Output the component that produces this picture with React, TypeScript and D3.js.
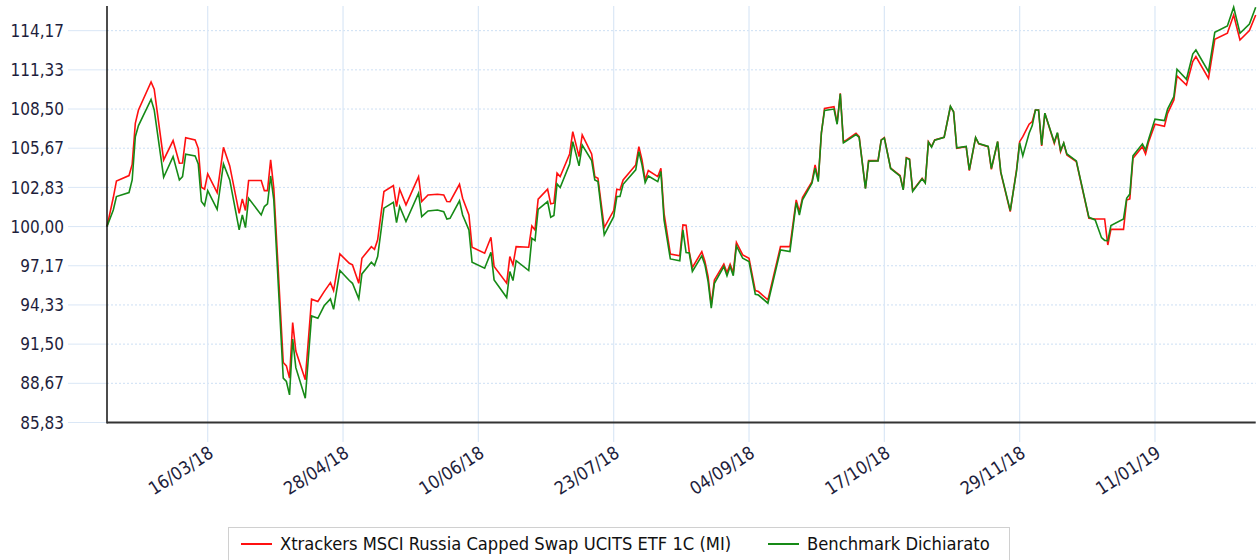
import { useMemo } from 'react';
import * as d3 from 'd3';

// trading dates where the lines change direction
const dates = [
	'2018-02-12','2018-02-14','2018-02-15','2018-02-19','2018-02-20','2018-02-21','2018-02-22','2018-02-26','2018-02-27','2018-03-02',
	'2018-03-05','2018-03-07','2018-03-08','2018-03-09','2018-03-12','2018-03-13','2018-03-14','2018-03-15','2018-03-16','2018-03-19',
	'2018-03-21','2018-03-23','2018-03-26','2018-03-27','2018-03-28','2018-03-29','2018-04-02','2018-04-03','2018-04-04','2018-04-05',
	'2018-04-06','2018-04-09','2018-04-10','2018-04-11','2018-04-12','2018-04-13','2018-04-16','2018-04-18','2018-04-20','2018-04-22',
	'2018-04-24','2018-04-25','2018-04-27','2018-04-30','2018-05-01','2018-05-03','2018-05-04','2018-05-07','2018-05-08','2018-05-09',
	'2018-05-11','2018-05-14','2018-05-15','2018-05-16','2018-05-18','2018-05-22','2018-05-23','2018-05-25','2018-05-28','2018-05-30',
	'2018-05-31','2018-06-01','2018-06-04','2018-06-05','2018-06-07','2018-06-08','2018-06-12','2018-06-14','2018-06-15','2018-06-19',
	'2018-06-20','2018-06-21','2018-06-22','2018-06-26','2018-06-27','2018-06-28','2018-06-29','2018-07-02','2018-07-03','2018-07-04',
	'2018-07-05','2018-07-06','2018-07-09','2018-07-10','2018-07-12','2018-07-13','2018-07-16','2018-07-17','2018-07-18','2018-07-20',
	'2018-07-23','2018-07-24','2018-07-25','2018-07-26','2018-07-30','2018-07-31','2018-08-01','2018-08-02','2018-08-03','2018-08-06',
	'2018-08-07','2018-08-08','2018-08-10','2018-08-13','2018-08-14','2018-08-15','2018-08-16','2018-08-17','2018-08-20','2018-08-21',
	'2018-08-22','2018-08-23','2018-08-24','2018-08-27','2018-08-28','2018-08-29','2018-08-30','2018-08-31','2018-09-02','2018-09-04',
	'2018-09-06','2018-09-07','2018-09-10','2018-09-14','2018-09-17','2018-09-19','2018-09-20','2018-09-21','2018-09-24','2018-09-25',
	'2018-09-26','2018-09-27','2018-09-28','2018-10-01','2018-10-02','2018-10-03','2018-10-04','2018-10-05','2018-10-08','2018-10-09',
	'2018-10-11','2018-10-12','2018-10-15','2018-10-16','2018-10-17','2018-10-19','2018-10-22','2018-10-23','2018-10-24','2018-10-25',
	'2018-10-26','2018-10-29','2018-10-30','2018-10-31','2018-11-01','2018-11-02','2018-11-05','2018-11-07','2018-11-08','2018-11-09',
	'2018-11-12','2018-11-13','2018-11-15','2018-11-16','2018-11-19','2018-11-20','2018-11-22','2018-11-23','2018-11-26','2018-11-28',
	'2018-11-29','2018-11-30','2018-12-02','2018-12-03','2018-12-04','2018-12-05','2018-12-06','2018-12-07','2018-12-10','2018-12-11',
	'2018-12-12','2018-12-13','2018-12-14','2018-12-17','2018-12-21','2018-12-23','2018-12-25','2018-12-26','2018-12-27','2018-12-28',
	'2019-01-01','2019-01-02','2019-01-03','2019-01-04','2019-01-07','2019-01-08','2019-01-09','2019-01-11','2019-01-14','2019-01-15',
	'2019-01-17','2019-01-18','2019-01-21','2019-01-23','2019-01-24','2019-01-28','2019-01-30','2019-02-03','2019-02-05','2019-02-07',
	'2019-02-10','2019-02-12',
];

// Xtrackers MSCI Russia Capped Swap UCITS ETF 1C (MI)
const fund = [
	100.0, 102.1, 103.3, 103.69, 104.5, 107.47, 108.43, 110.46, 109.93, 104.82,
	106.22, 104.58, 104.6, 106.43, 106.27, 105.66, 102.84, 102.7, 103.81, 102.46,
	105.73, 104.39, 100.96, 102.0, 101.16, 103.33, 103.33, 102.6, 102.6, 104.82,
	102.77, 90.17, 89.93, 89.04, 93.06, 91.0, 88.92, 94.75, 94.58, 95.3,
	95.95, 95.37, 98.02, 97.35, 97.23, 95.9, 97.71, 98.55, 98.36, 99.04,
	102.53, 102.96, 101.45, 102.7, 101.57, 103.61, 101.81, 102.29, 102.34, 102.29,
	101.81, 101.8, 103.06, 102.05, 100.84, 98.51, 98.07, 99.23, 97.11, 95.9,
	97.83, 97.23, 98.55, 98.51, 100.05, 99.76, 101.98, 102.7, 101.64, 101.69,
	103.86, 103.61, 105.25, 106.87, 105.06, 106.63, 105.25, 103.61, 103.5, 99.93,
	101.16, 102.7, 102.65, 103.37, 104.46, 105.78, 104.82, 103.37, 104.05, 103.61,
	104.22, 100.96, 98.02, 97.88, 100.12, 100.1, 98.19, 97.04, 98.19, 97.47,
	96.39, 94.34, 96.14, 97.28, 96.67, 97.28, 96.67, 98.84, 97.95, 97.71,
	95.37, 95.3, 94.7, 98.55, 98.55, 101.93, 101.08, 102.1, 103.25, 104.46,
	103.4, 106.75, 108.55, 108.67, 107.47, 109.64, 106.14, 106.27, 106.75, 106.51,
	102.77, 104.77, 104.77, 106.27, 106.43, 104.22, 103.69, 102.7, 104.99, 104.89,
	102.6, 103.49, 103.18, 106.14, 105.78, 106.27, 106.46, 108.67, 108.31, 105.66,
	105.78, 104.05, 106.43, 105.98, 105.78, 104.14, 106.14, 103.9, 101.08, 104.1,
	106.14, 106.5, 107.4, 107.6, 108.43, 108.43, 105.83, 108.19, 106.02, 106.75,
	105.42, 106.02, 105.18, 104.7, 100.6, 100.55, 100.55, 100.55, 98.67, 99.8,
	99.8, 101.93, 102.0, 104.94, 105.78, 105.25, 106.14, 107.4, 107.25, 108.19,
	109.16, 110.9, 110.24, 111.93, 112.29, 110.72, 113.54, 113.98, 115.3, 113.49,
	114.17, 115.3,
];

// Benchmark Dichiarato
const bench = [
	100.0, 101.2, 102.17, 102.46, 103.37, 106.5, 107.3, 109.2, 108.43, 103.57,
	105.06, 103.37, 103.61, 105.23, 105.11, 104.53, 101.81, 101.52, 102.6, 101.25,
	104.53, 103.37, 99.76, 100.84, 99.93, 102.05, 100.84, 101.45, 101.64, 103.66,
	101.93, 89.04, 88.8, 87.83, 91.86, 89.8, 87.59, 93.54, 93.37, 94.27,
	94.77, 94.02, 96.82, 96.1, 95.9, 94.77, 96.58, 97.42, 97.18, 97.83,
	101.33, 101.76, 100.29, 101.45, 100.36, 102.41, 100.72, 101.13, 101.2, 101.08,
	100.55, 100.6, 101.86, 100.84, 99.76, 97.42, 96.99, 98.14, 96.14, 94.87,
	96.75, 96.1, 97.54, 96.82, 99.16, 98.99, 101.25, 101.81, 100.67, 100.8,
	103.08, 102.82, 104.53, 106.14, 104.39, 105.9, 104.77, 103.37, 103.25, 99.4,
	100.72, 102.17, 102.17, 103.06, 104.1, 105.42, 104.46, 103.18, 103.66, 103.25,
	103.98, 100.48, 97.66, 97.52, 99.76, 98.12, 98.1, 96.75, 97.88, 97.23,
	96.02, 94.1, 95.9, 97.11, 96.45, 97.11, 96.45, 98.6, 97.71, 97.47,
	95.1, 95.05, 94.46, 98.31, 98.19, 101.73, 100.84, 101.93, 103.13, 104.22,
	103.25, 106.8, 108.4, 108.5, 107.4, 109.6, 106.05, 106.2, 106.65, 106.45,
	102.75, 104.72, 104.75, 106.25, 106.4, 104.2, 103.65, 102.65, 104.95, 104.85,
	102.55, 103.45, 103.15, 106.1, 105.75, 106.25, 106.45, 108.7, 108.3, 105.7,
	105.8, 104.1, 106.45, 106.0, 105.8, 104.2, 106.15, 103.95, 101.15, 104.0,
	106.05, 105.11, 106.75, 107.3, 108.43, 108.43, 105.9, 108.2, 106.1, 106.8,
	105.5, 106.05, 105.25, 104.75, 100.67, 100.48, 99.2, 99.0, 98.99, 100.07,
	100.55, 102.05, 102.35, 105.11, 105.98, 105.54, 106.33, 107.77, 107.66, 108.5,
	109.4, 111.38, 110.65, 112.48, 112.77, 111.2, 114.05, 114.5, 115.86, 113.98,
	114.65, 115.86,
];

const yTicks = [85.8333, 88.6667, 91.5, 94.3333, 97.1667, 100, 102.8333, 105.6667, 108.5, 111.3333, 114.1667];
const xTicks = ['2018-03-16', '2018-04-28', '2018-06-10', '2018-07-23', '2018-09-04', '2018-10-17', '2018-11-29', '2019-01-11'];
const yMax = 115.95;

const seriesNames = ['Xtrackers MSCI Russia Capped Swap UCITS ETF 1C (MI)', 'Benchmark Dichiarato'];
const seriesColors = ['#ff1010', '#168a16'];

const W = 1257;
const H = 560;
const plot = { left: 107, right: 1255.7, top: 6, bottom: 422.5 };
const FONT = "'DejaVu Sans Condensed', 'DejaVu Sans', sans-serif";

export default function App() {
	const parse = d3.timeParse('%Y-%m-%d');
	const fmtDate = d3.timeFormat('%d/%m/%y');

	const rows = useMemo(
		() =>
			dates.map((d, i) => ({
				date: parse(d) as Date,
				fund: fund[i],
				bench: bench[i],
			})),
		[]
	);

	const x = d3
		.scaleTime()
		.domain(d3.extent(rows, (d) => d.date) as [Date, Date])
		.range([plot.left, plot.right]);

	const y = d3
		.scaleLinear()
		.domain([yTicks[0], yMax])
		.range([plot.bottom, plot.top]);

	const lineFund = d3
		.line<any>()
		.x((d) => x(d.date))
		.y((d) => y(d.fund));
	const lineBench = d3
		.line<any>()
		.x((d) => x(d.date))
		.y((d) => y(d.bench));

	return (
		<div style={{ position: 'absolute', left: 0, top: 0 }}>
			<svg width={W} height={H} style={{ display: 'block', fontFamily: FONT, fontStretch: 'condensed' }}>
				<rect width={W} height={H} fill='white' />

				{/* horizontal dotted grid + y tick marks */}
				{yTicks.map((t, i) => (
					<g key={i}>
						<line
							x1={plot.left}
							x2={plot.right}
							y1={y(t)}
							y2={y(t)}
							stroke='#cddff4'
							strokeWidth={1}
							strokeDasharray='2,2'
						/>
						<line x1={68} x2={plot.left} y1={y(t)} y2={y(t)} stroke='#dae7f6' strokeWidth={1} />
						<text
							x={64}
							y={y(t)}
							dy='0.36em'
							textAnchor='end'
							fontSize={17}
							fill='#1e1e3c'>
							{t.toFixed(2).replace('.', ',')}
						</text>
					</g>
				))}

				{/* vertical grid + x labels */}
				{xTicks.map((s, i) => {
					const d = parse(s) as Date;
					const px = x(d);
					return (
						<g key={i}>
							<line x1={px} x2={px} y1={plot.top} y2={442} stroke='#dae7f6' strokeWidth={1.2} />
							<text
								transform={`translate(${px + 7},${456}) rotate(-33)`}
								textAnchor='end'
								fontSize={18}
								fill='#1e1e3c'>
								{fmtDate(d)}
							</text>
						</g>
					);
				})}

				{/* series */}
				<path d={lineFund(rows) || ''} fill='none' stroke={seriesColors[0]} strokeWidth={1.6} />
				<path d={lineBench(rows) || ''} fill='none' stroke={seriesColors[1]} strokeWidth={1.6} />

				{/* axes */}
				<line x1={plot.left} x2={plot.left} y1={plot.top} y2={plot.bottom + 1} stroke='#111' strokeWidth={1.5} />
				<line x1={plot.left} x2={plot.right} y1={plot.bottom} y2={plot.bottom} stroke='#333' strokeWidth={2} />

				{/* legend */}
				<rect x={228.5} y={527.5} width={781} height={40} fill='white' stroke='#d0d0d0' />
				{seriesNames.map((name, i) => {
					const lx = i === 0 ? 241 : 768;
					return (
						<g key={i}>
							<line x1={lx} x2={lx + 31} y1={544} y2={544} stroke={seriesColors[i]} strokeWidth={2} />
							<text x={lx + 39} y={550} fontSize={18.2} fill='#111'>
								{name}
							</text>
						</g>
					);
				})}
			</svg>
		</div>
	);
}
